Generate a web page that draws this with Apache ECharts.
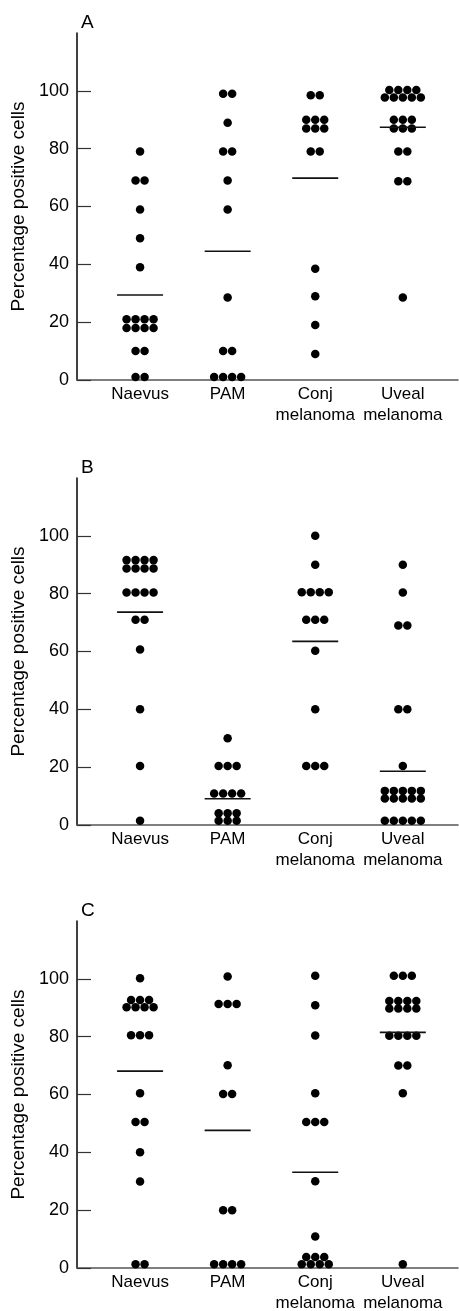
<html>
<head>
<meta charset="UTF-8" />
<title>Percentage positive cells</title>
<script src="https://cdn.jsdelivr.net/npm/echarts@6/dist/echarts.min.js"></script>
</head>
<body style="margin:0;background:#fff;">
<div id="main" style="width:459px;height:1311px;"></div>
<script type="text/javascript">
var groups = ['Naevus', 'PAM', 'Conj\nmelanoma', 'Uveal\nmelanoma'];
var panels = ['A', 'B', 'C'];
var yTicks = [0, 20, 40, 60, 80, 100];

// panel A
var naevusA = [79, 69, 69, 59, 49, 39, 21, 21, 21, 21, 18, 18, 18, 18, 10, 10, 1, 1];
var pamA = [99, 99, 89, 79, 79, 69, 59, 28.5, 10, 10, 1, 1, 1, 1];
var conjA = [98.5, 98.5, 90, 90, 90, 87, 87, 87, 79, 79, 38.5, 29, 19, 9];
var uvealA = [100.3, 100.3, 100.3, 100.3, 97.7, 97.7, 97.7, 97.7, 97.7, 90, 90, 90, 87, 87, 87, 79, 79, 68.7, 68.7, 28.5];
var meansA = [29.4, 44.5, 69.8, 87.4];

// panel B
var naevusB = [91.6, 91.6, 91.6, 91.6, 88.7, 88.7, 88.7, 88.7, 80.4, 80.4, 80.4, 80.4, 71, 71, 60.7, 40, 20.4, 1.5];
var pamB = [30, 20.4, 20.4, 20.4, 10.9, 10.9, 10.9, 10.9, 4.1, 4.1, 4.1, 1.5, 1.5, 1.5];
var conjB = [100, 90, 80.5, 80.5, 80.5, 80.5, 71, 71, 71, 60.3, 40, 20.4, 20.4, 20.4];
var uvealB = [90, 80.4, 69, 69, 40, 40, 20.4, 11.8, 11.8, 11.8, 11.8, 11.8, 9.2, 9.2, 9.2, 9.2, 9.2, 1.5, 1.5, 1.5, 1.5, 1.5];
var meansB = [73.6, 9.1, 63.5, 18.6];

// panel C
var naevusC = [100.2, 92.7, 92.7, 92.7, 90.2, 90.2, 90.2, 90.2, 80.5, 80.5, 80.5, 60.4, 50.5, 50.5, 40, 29.9, 1.3, 1.3];
var pamC = [100.8, 91.3, 91.3, 91.3, 70.1, 60.2, 60.2, 20, 20, 1.3, 1.3, 1.3, 1.3];
var conjC = [101.1, 90.9, 80.4, 60.4, 50.5, 50.5, 50.5, 30, 10.9, 3.8, 3.8, 3.8, 1.3, 1.3, 1.3, 1.3];
var uvealC = [101.1, 101.1, 101.1, 92.3, 92.3, 92.3, 92.3, 89.7, 89.7, 89.7, 89.7, 80.3, 80.3, 80.3, 80.3, 70, 70, 60.4, 1.3];
var meansC = [68.1, 47.6, 33.1, 81.5];

var panelData = [
    [naevusA, pamA, conjA, uvealA],
    [naevusB, pamB, conjB, uvealB],
    [naevusC, pamC, conjC, uvealC]
];
var panelMeans = [meansA, meansB, meansC];

var myChart = echarts.init(document.getElementById('main'));

var xMin = 0.28, xMax = 4.63;
var gridTops = [33, 478, 921];
var gridHeight = 347;
var dotStep = 9 / (381 / (xMax - xMin)); // 9px between dots in a row

// spread equal values side by side, centred on the group
function dotPoints(cols) {
    var pts = [];
    for (var g = 0; g < cols.length; g++) {
        var counts = {};
        cols[g].forEach(function (v) { counts[v] = (counts[v] || 0) + 1; });
        Object.keys(counts).forEach(function (k) {
            var n = counts[k];
            for (var i = 0; i < n; i++) {
                pts.push([g + 1 + (i - (n - 1) / 2) * dotStep, +k]);
            }
        });
    }
    return pts;
}

var font = 'Liberation Sans';
var grid = [], xAxis = [], yAxis = [], series = [], title = [];

for (var p = 0; p < 3; p++) {
    grid.push({ left: 77, right: 1, top: gridTops[p], height: gridHeight, outerBoundsMode: 'none', containLabel: false });
    title.push({
        text: panels[p], left: 76, top: gridTops[p] - 25,
        textStyle: { fontFamily: font, fontSize: 19, fontWeight: 'normal', color: '#000' }
    });
    xAxis.push({
        type: 'value', gridIndex: p, min: xMin, max: xMax,
        axisLine: { onZero: false, lineStyle: { color: '#555', width: 1.5 } },
        axisTick: { show: false },
        splitLine: { show: false },
        axisLabel: {
            customValues: [1, 2, 3, 4],
            formatter: function (v) { return groups[Math.round(v) - 1] || ''; },
            fontFamily: font, fontSize: 17, color: '#000', lineHeight: 21, margin: 4
        }
    });
    yAxis.push({
        type: 'value', gridIndex: p, min: 0, max: 120,
        name: 'Percentage positive cells', nameLocation: 'middle', nameGap: 45,
        nameTextStyle: { fontFamily: font, fontSize: 19, color: '#000' },
        axisLine: { show: true, lineStyle: { color: '#000', width: 1.5 } },
        axisTick: { show: true, inside: true, length: 14, customValues: yTicks, lineStyle: { color: '#333', width: 1.2 } },
        splitLine: { show: false },
        axisLabel: { customValues: yTicks, fontFamily: font, fontSize: 18, color: '#000', margin: 8 }
    });
    series.push({
        type: 'scatter', xAxisIndex: p, yAxisIndex: p,
        symbol: 'circle', symbolSize: 8.5,
        itemStyle: { color: '#000', opacity: 1 },
        data: dotPoints(panelData[p]),
        silent: true
    });
    series.push({
        type: 'scatter', xAxisIndex: p, yAxisIndex: p,
        symbol: 'rect', symbolSize: [46, 1.6],
        itemStyle: { color: '#111', opacity: 1 },
        data: panelMeans[p].map(function (m, i) { return [i + 1, m]; }),
        silent: true, z: 3
    });
}

myChart.setOption({
    animation: false,
    title: title,
    grid: grid,
    xAxis: xAxis,
    yAxis: yAxis,
    series: series
});
</script>
</body>
</html>
